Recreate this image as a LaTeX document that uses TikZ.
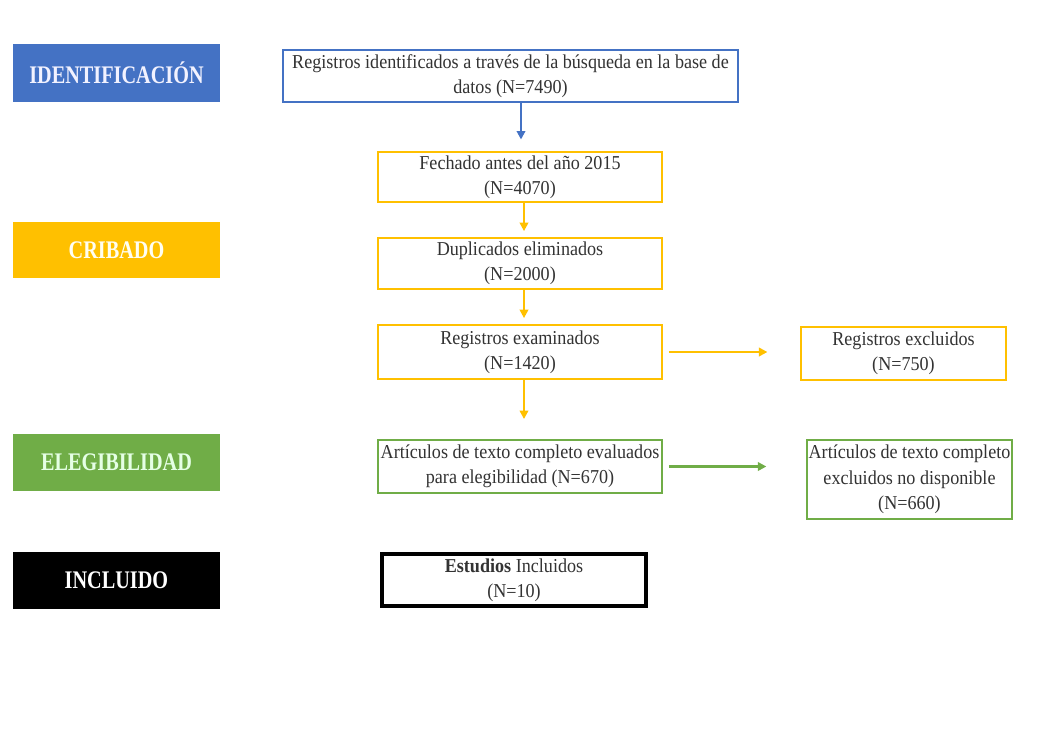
\documentclass[tikz,border=0pt]{standalone}
\usepackage{fontspec}
\setmainfont{Liberation Serif}[FakeStretch=0.92]
\newfontfamily\phasefont{Liberation Serif}[FakeStretch=0.8]
\usepackage{tikz}
\usetikzlibrary{arrows.meta, positioning, calc}
\definecolor{idblue}{HTML}{4472C4}
\definecolor{crgold}{HTML}{FFC000}
\definecolor{elgreen}{HTML}{70AD47}
\tikzstyle{arrow}=[-{Triangle[length=6pt,width=6pt]}, line width=2pt]

\begin{document}
\begin{tikzpicture}[x=0.025cm, y=-0.025cm,
  phase/.style={rectangle, minimum width=207*0.025cm, minimum height=57*0.025cm,
                inner sep=0pt, font=\phasefont\fontsize{18}{20}\selectfont\bfseries},
  prismabox/.style={rectangle, draw, line width=1.8pt, fill=white, align=center,
                   inner sep=0pt, text=black!80,
                   font=\fontsize{14}{18}\selectfont}
]
\useasboundingbox (0,0) rectangle (1046,751);

% fases (columna izquierda)
\node[phase, fill=idblue, text=blue!5, minimum height=58*0.025cm] (fid) at (116.5,73) {IDENTIFICACIÓN};
\node[phase, fill=crgold, text=yellow!5, minimum height=56*0.025cm] (fcrib) at (116.5,250) {CRIBADO};
\node[phase, fill=elgreen, text=green!10] (felig) at (116.5,462.5) {ELEGIBILIDAD};
\node[phase, fill=black, text=white] (fincl) at (116.5,580.5) {INCLUIDO};

% diagrama de flujo
\node[prismabox, draw=idblue, minimum width=455*0.025cm, minimum height=52*0.025cm]
     (ident) at (510.5,76) {Registros identificados a través de la búsqueda en la base de\\datos (N=7490)};
\node[prismabox, draw=crgold, minimum width=284*0.025cm, minimum height=50*0.025cm]
     (fecha) at (520,177) {Fechado antes del año 2015\\(N=4070)};
\node[prismabox, draw=crgold, minimum width=284*0.025cm, minimum height=51*0.025cm]
     (dupl) at (520,263.5) {Duplicados eliminados\\(N=2000)};
\node[prismabox, draw=crgold, minimum width=284*0.025cm, minimum height=54*0.025cm]
     (exam) at (520,352) {Registros examinados\\(N=1420)};
\node[prismabox, draw=crgold, minimum width=205*0.025cm, minimum height=53*0.025cm]
     (excl) at (903.5,353.5) {Registros excluidos\\(N=750)};
\node[prismabox, draw=elgreen, minimum width=284*0.025cm, minimum height=53*0.025cm]
     (texto) at (520,466.5) {Artículos de texto completo evaluados\\para elegibilidad (N=670)};
\node[prismabox, draw=elgreen, minimum width=205*0.025cm, minimum height=79*0.025cm]
     (nodisp) at (909.5,479.5) {Artículos de texto completo\\excluidos no disponible\\(N=660)};
\node[prismabox, draw=black, line width=2.2pt, minimum width=264*0.025cm, minimum height=52*0.025cm]
     (final) at (514,580) {\textbf{Estudios} Incluidos\\(N=10)};

\draw[arrow, idblue, shorten >=8pt] (ident.south -| 521,0) -- (fecha.north -| 521,0);
\draw[arrow, crgold, shorten >=4pt] (fecha.south -| 524,0) -- (dupl.north -| 524,0);
\draw[arrow, crgold, shorten >=4pt] (dupl.south -| 524,0) -- (exam.north -| 524,0);
\draw[arrow, crgold, shorten >=14pt] (exam.south -| 524,0) -- (texto.north -| 524,0);
\draw[arrow, crgold, shorten <=4pt, shorten >=23pt] (exam.east) -- (exam.east -| excl.west);
\draw[arrow, elgreen, shorten <=4pt, shorten >=28pt] (texto.east) -- (texto.east -| nodisp.west);
\end{tikzpicture}
\end{document}
